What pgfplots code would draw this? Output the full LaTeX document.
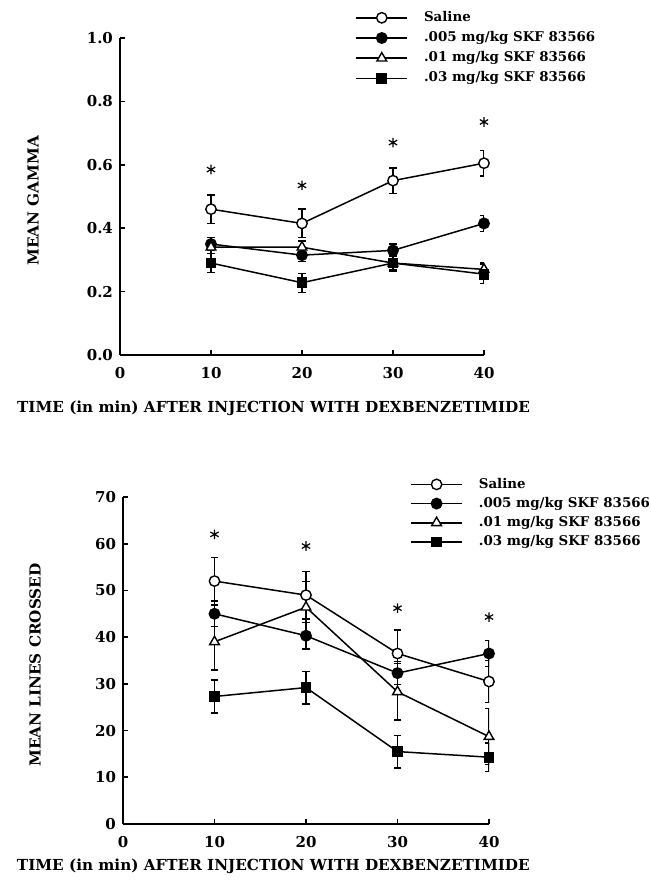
\documentclass[border=0pt]{standalone}
\usepackage{fontspec}
\setmainfont{DejaVu Serif}
\usepackage{pgfplots}
\pgfplotsset{compat=1.18}

\pgfplotsset{
  panel/.style={
    scale only axis,
    xmin=0, xmax=40,
    xtick={0,10,20,30,40},
    axis x line*=bottom, axis y line*=left,
    axis line style={line width=1pt},
    tick style={line width=0.8pt, black},
    major tick length=2.5pt,
    tick align=inside,
    /pgf/number format/assume math mode=true,
    tick label style={font=\fontsize{7.5}{9}\selectfont\bfseries},
    xticklabel style={yshift=-2.5pt},
    label style={font=\fontsize{7.6}{9}\selectfont\bfseries},
    legend cell align=left,
    legend style={draw=none, fill=none, font=\fontsize{6.7}{8}\selectfont\bfseries,
      inner sep=0pt, row sep=1.5pt, column sep=7pt, anchor=north west,
      nodes={inner sep=1pt}},
    legend image code/.code={\draw[mark repeat=2,mark phase=2,line width=0.75pt,##1]
      plot coordinates {(0pt,0pt) (12.75pt,0pt) (25.5pt,0pt)};},
    every axis plot/.append style={black, line width=0.75pt,
      mark size=2.6pt,
      error bars/y dir=both, error bars/y explicit,
      error bars/error bar style={line width=0.7pt},
      error bars/error mark options={rotate=90, mark size=1.9pt, line width=0.7pt}},
  },
  sal/.style={mark=*, mark options={fill=white, line width=0.7pt}},
  lo/.style={mark=*, mark options={fill=black}},
  mid/.style={mark=triangle*, mark size=2.8pt, mark options={fill=white, line width=0.7pt}},
  hi/.style={mark=square*, mark size=2.3pt, mark options={fill=black}},
  star/.style={only marks, mark=asterisk, mark size=2.4pt, line width=0.6pt,
    forget plot, error bars/y dir=none},
}

\begin{document}
\begin{tikzpicture}
\path[use as bounding box] (0,0) rectangle (325pt,443pt);

% upper panel: mean gamma
\begin{axis}[panel,
  at={(60pt,265.5pt)}, anchor=south west,
  width=182pt, height=158.5pt,
  ymin=0, ymax=1.0,
  ytick={0,0.2,0.4,0.6,0.8,1.0},
  yticklabel style={/pgf/number format/.cd, fixed, fixed zerofill, precision=1},
  ylabel={MEAN GAMMA},
  ylabel style={at={(axis description cs:-0.239,0.486)}, anchor=center},
  xlabel={TIME (in min) AFTER INJECTION WITH DEXBENZETIMIDE},
  xlabel style={at={(axis description cs:-0.302,-0.167)}, anchor=west},
  legend style={at={(axis description cs:0.646,1.092)}},
]
\addplot[sal] coordinates {(10,0.46) +- (0,0.045) (20,0.415) +- (0,0.045) (30,0.55) +- (0,0.04) (40,0.605) +- (0,0.04)};
\addlegendentry{Saline}
\addplot[lo] coordinates {(10,0.35) +- (0,0.02) (20,0.315) +- (0,0.02) (30,0.33) +- (0,0.02) (40,0.415) +- (0,0.025)};
\addlegendentry{.005 mg/kg SKF 83566}
\addplot[mid] coordinates {(10,0.34) +- (0,0.02) (20,0.34) +- (0,0.02) (30,0.29) +- (0,0.02) (40,0.27) +- (0,0.02)};
\addlegendentry{.01 mg/kg SKF 83566}
\addplot[hi] coordinates {(10,0.29) +- (0,0.03) (20,0.228) +- (0,0.03) (30,0.29) +- (0,0.025) (40,0.255) +- (0,0.03)};
\addlegendentry{.03 mg/kg SKF 83566}
\addplot[star] coordinates {(10,0.585) (20,0.535) (30,0.67) (40,0.735)};
\end{axis}

% lower panel: lines crossed
\begin{axis}[panel,
  at={(61.5pt,31pt)}, anchor=south west,
  width=183pt, height=163.5pt,
  ymin=0, ymax=70,
  ytick={0,10,20,30,40,50,60,70},
  ylabel={MEAN LINES CROSSED},
  ylabel style={at={(axis description cs:-0.240,0.486)}, anchor=center},
  xlabel={TIME (in min) AFTER INJECTION WITH DEXBENZETIMIDE},
  xlabel style={at={(axis description cs:-0.309,-0.128)}, anchor=west},
  legend style={at={(axis description cs:0.784,1.066)}, row sep=1pt},
]
\addplot[sal] coordinates {(10,52) +- (0,5.1) (20,49) +- (0,5.1) (30,36.5) +- (0,5) (40,30.5) +- (0,4.5)};
\addlegendentry{Saline}
\addplot[lo] coordinates {(10,45) +- (0,2.7) (20,40.3) +- (0,2.8) (30,32.3) +- (0,2.5) (40,36.5) +- (0,2.8)};
\addlegendentry{.005 mg/kg SKF 83566}
\addplot[mid] coordinates {(10,39) +- (0,6) (20,46.4) +- (0,5.5) (30,28.3) +- (0,6) (40,18.7) +- (0,6)};
\addlegendentry{.01 mg/kg SKF 83566}
\addplot[hi] coordinates {(10,27.3) +- (0,3.5) (20,29.2) +- (0,3.5) (30,15.5) +- (0,3.5) (40,14.3) +- (0,3)};
\addlegendentry{.03 mg/kg SKF 83566}
\addplot[star] coordinates {(10,62) (20,59.5) (30,46.2) (40,44.3)};
\end{axis}
\end{tikzpicture}
\end{document}
